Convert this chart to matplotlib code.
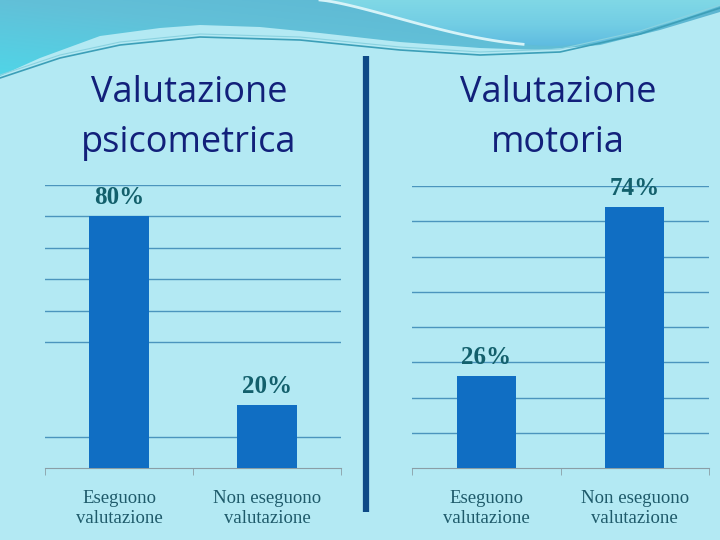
import matplotlib.pyplot as plt
import numpy as np
from matplotlib.patches import Polygon
from matplotlib.colors import LinearSegmentedColormap

categories = ['Eseguono\nvalutazione', 'Non eseguono\nvalutazione']
psico_values = [80, 20]
motoria_values = [26, 74]
titles = [['Valutazione', 'psicometrica'], ['Valutazione', 'motoria']]

bg = '#b3e9f3'
bar_color = '#106ec3'
grid_color = '#4b95bd'
label_color = '#13606c'
cat_color = '#1e5a6a'
title_color = '#12207a'

fig = plt.figure(figsize=(7.2, 5.4), dpi=100)
fig.patch.set_facecolor(bg)

# background decoration, in pixel coords
deco = fig.add_axes([0, 0, 1, 1], zorder=0)
deco.set_xlim(0, 720)
deco.set_ylim(540, 0)
deco.axis('off')

top_x = [0, 40, 100, 160, 200, 260, 320, 400, 480, 540, 600, 660, 720]
top_y = [76, 58, 36, 28, 25, 27, 33, 42, 48, 50, 45, 30, 12]
poly = Polygon([(0, 0), (720, 0)] + list(zip(top_x[::-1], top_y[::-1])), closed=True,
               facecolor='none', edgecolor='none')
deco.add_patch(poly)
grad = np.linspace(0, 1, 256)
gx, gy = np.meshgrid(grad, grad)
cmap = LinearSegmentedColormap.from_list('w', ['#5cb4d0', '#62c0d8', '#4fd6e8'])
img = deco.imshow((1 - gx) * 0.5 + gy * 0.5, extent=[0, 720, 80, 0], cmap=cmap,
                  aspect='auto', zorder=1)
img.set_clip_path(poly)

# lighter swoosh upper right, bounded by a curved streak
t = np.linspace(0, 1, 40)
streak_x = 320 + 240 * t
streak_y = 46 * np.sin(t * np.pi / 2) ** 1.3
sw_x = list(streak_x) + [600, 680, 720, 720]
sw_y = list(streak_y) + [42, 20, 6, 0]
sw = Polygon(list(zip(sw_x, sw_y)), closed=True, facecolor='none', edgecolor='none')
deco.add_patch(sw)
cmap2 = LinearSegmentedColormap.from_list('s', ['#80d8e6', '#72cde4', '#5bb8e0'])
img2 = deco.imshow(gy, extent=[300, 720, 50, 0], cmap=cmap2, aspect='auto', zorder=2)
img2.set_clip_path(sw)
deco.plot(streak_x[:34], streak_y[:34], color='#d6f3f8', lw=2, zorder=3)

line_x = [0, 60, 120, 200, 300, 400, 480, 560, 640, 720]
line_y = [78, 58, 45, 37, 40, 50, 55, 52, 34, 8]
deco.plot(line_x, line_y, color='#3c9fb8', lw=1.2, zorder=3)
deco.plot(line_x, [v - 3 for v in line_y], color='#8ad2e0', lw=0.8, zorder=3)

# divider
deco.plot([366, 366], [56, 512], color='#0d4a86', lw=4.5, solid_capstyle='butt', zorder=3)


def draw_panel(rect, values, ymax, skip_grid):
    ax = fig.add_axes(rect, zorder=2)
    ax.set_facecolor('none')
    x = np.arange(len(values))
    ax.bar(x, values, width=0.4, color=bar_color, zorder=3)
    ax.set_xlim(-0.5, len(values) - 0.5)
    ax.set_ylim(0, ymax)
    for g in range(10, ymax + 1, 10):
        if g in skip_grid:
            continue
        ax.axhline(g, color=grid_color, lw=1, zorder=1)
    for s in ['top', 'right', 'left']:
        ax.spines[s].set_visible(False)
    ax.spines['bottom'].set_color('#8a9ea6')
    ax.set_yticks([])
    ax.set_xticks(x)
    ax.set_xticklabels(categories, family='Liberation Serif', fontsize=13.5, color=cat_color,
                       linespacing=1.2)
    ax.tick_params(axis='x', which='major', length=0, pad=16)
    ax.set_xticks([-0.5, 0.5, 1.5], minor=True)
    ax.tick_params(axis='x', which='minor', length=5, color='#8a9ea6', direction='out')
    for xi, v in zip(x, values):
        ax.annotate(f'{v}%', (xi, v), xytext=(0, 5), textcoords='offset points',
                    ha='center', va='bottom', family='Liberation Serif', fontweight='bold',
                    fontsize=18, color=label_color, zorder=4)
    return ax


draw_panel([45 / 720, 72 / 540, 296 / 720, 283 / 540], psico_values, 90, [20, 30])
draw_panel([412 / 720, 72 / 540, 297 / 720, 282 / 540], motoria_values, 80, [])

for cx, lines in zip([189, 558], titles):
    for i, t in enumerate(lines):
        deco.text(cx, 102 + 50 * i, t, ha='center', va='baseline', family='Open Sans',
                  fontsize=26, color=title_color, zorder=4)

fig.savefig('out.png', dpi=100, facecolor=bg)
